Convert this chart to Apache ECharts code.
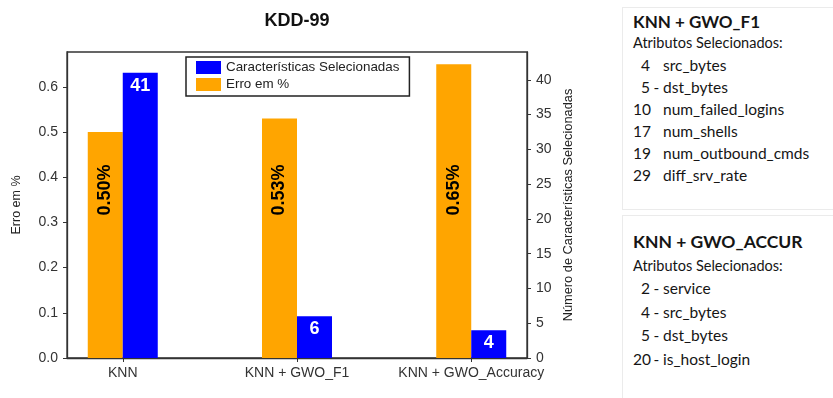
<!DOCTYPE html>
<html>
<head>
<meta charset="utf-8">
<script src="https://cdn.jsdelivr.net/npm/echarts@6/dist/echarts.min.js"></script>
<style>
body { margin: 0; background: #fff; }
#wrap { position: relative; width: 833px; height: 398px; overflow: hidden; }
#chart { position: absolute; left: 0; top: 0; width: 833px; height: 398px; }
.box { position: absolute; left: 622px; width: 240px; box-sizing: border-box; border: 1.5px solid #ebebeb; background: #fff;
  padding-left: 10px; font-family: Lato, sans-serif; color: #151515; }
.box .tit { font-weight: bold; font-size: 17px; line-height: 22px; }
.box .sub { font-size: 14.5px; line-height: 20px; }
.box .it { font-size: 15.5px; white-space: pre; }
.box .it .n { display: inline-block; width: 17px; text-align: right; }
.box .it .s { display: inline-block; width: 13px; text-align: center; }
#box1 { top: 7px; height: 203px; padding-top: 3px; }
#box2 { top: 215px; height: 200px; padding-top: 15px; }
#box2 .tit { font-size: 17.5px; }
#box1 .it { line-height: 22px; }
#box2 .it { line-height: 23.5px; }
</style>
</head>
<body>
<div id="wrap">
  <div id="chart"></div>
  <div class="box" id="box1"></div>
  <div class="box" id="box2"></div>
</div>
<script>
// dados do grafico
var categorias = ['KNN', 'KNN + GWO_F1', 'KNN + GWO_Accuracy'];
var erro = [0.50, 0.53, 0.65];
var qtdCaract = [41, 6, 4];
var ticksErro = [0, 0.1, 0.2, 0.3, 0.4, 0.5, 0.6];
var ticksQtd = [0, 5, 10, 15, 20, 25, 30, 35, 40];
var posCat = [0, 1, 2];

// atributos selecionados (quadros a direita)
var f1Titulo = 'KNN + GWO_F1';
var f1Num = [4, 5, 10, 17, 19, 29];
var f1Sep = ['', '-', '', '', '', ''];
var f1Nome = ['src_bytes', 'dst_bytes', 'num_failed_logins', 'num_shells', 'num_outbound_cmds', 'diff_srv_rate'];
var accTitulo = 'KNN + GWO_ACCUR';
var accNum = [2, 4, 5, 20];
var accSep = ['-', '-', '-', '-'];
var accNome = ['service', 'src_bytes', 'dst_bytes', 'is_host_login'];

function quadro(id, titulo, nums, seps, nomes) {
	var el = document.getElementById(id);
	var html = '<div class="tit">' + titulo + '</div>';
	html += '<div class="sub" style="margin-top:' + (id == 'box1' ? 0 : 3) + 'px">Atributos Selecionados:</div>';
	html += '<div style="margin-top:1px">';
	for (var i = 0; i < nums.length; i++) {
		html += '<div class="it"><span class="n">' + nums[i] + '</span><span class="s">' + seps[i] + '</span>' + nomes[i] + '</div>';
	}
	html += '</div>';
	el.innerHTML = html;
}
quadro('box1', f1Titulo, f1Num, f1Sep, f1Nome);
quadro('box2', accTitulo, accNum, accSep, accNome);

var fonte = '"Liberation Sans", Arial, sans-serif';
var myChart = echarts.init(document.getElementById('chart'));
var option = {
	animation: false,
	backgroundColor: '#fff',
	textStyle: { fontFamily: fonte },
	title: {
		text: 'KDD-99',
		left: 297,
		textAlign: 'center',
		top: 12,
		padding: 0,
		textStyle: { fontSize: 18, fontWeight: 'bold', color: '#111', fontFamily: fonte }
	},
	legend: {
		data: ['Características Selecionadas', 'Erro em %'],
		orient: 'vertical',
		left: 186,
		top: 57,
		padding: [4, 10, 5, 10],
		borderColor: '#222',
		borderWidth: 1.5,
		itemWidth: 25,
		itemHeight: 13,
		itemGap: 4,
		icon: 'rect',
		selectedMode: false,
		textStyle: { fontSize: 13.4, color: '#222', fontFamily: fonte }
	},
	grid: {
		left: 67,
		right: 306,
		top: 52,
		bottom: 40,
		show: true,
		borderColor: '#333',
		borderWidth: 1.3,
		outerBoundsMode: 'none'
	},
	xAxis: {
		type: 'value',
		min: -0.32,
		max: 2.32,
		splitLine: { show: false },
		axisLine: { show: true, onZero: false, lineStyle: { color: '#333', width: 1.3 } },
		axisTick: { show: true, length: 4, customValues: posCat, lineStyle: { color: '#333' } },
		axisLabel: {
			customValues: posCat,
			margin: 8,
			fontSize: 14,
			color: '#333',
			formatter: function(v) { return categorias[Math.round(v)]; }
		}
	},
	yAxis: [{
		type: 'value',
		position: 'left',
		min: 0,
		max: 0.677,
		splitLine: { show: false },
		axisLine: { show: true, onZero: false, lineStyle: { color: '#333', width: 1.3 } },
		axisTick: { show: true, length: 4, customValues: ticksErro, lineStyle: { color: '#333' } },
		axisLabel: {
			customValues: ticksErro,
			margin: 9,
			fontSize: 14,
			color: '#333',
			formatter: function(v) { return v.toFixed(1); }
		},
		name: 'Erro em %',
		nameLocation: 'middle',
		nameRotate: 90,
		nameGap: 44,
		nameTextStyle: { fontSize: 12.5, color: '#222' }
	}, {
		type: 'value',
		position: 'right',
		min: 0,
		max: 44,
		splitLine: { show: false },
		axisLine: { show: true, onZero: false, lineStyle: { color: '#333', width: 1.3 } },
		axisTick: { show: true, length: 4, customValues: ticksQtd, lineStyle: { color: '#333' } },
		axisLabel: {
			customValues: ticksQtd,
			margin: 9,
			fontSize: 14,
			color: '#333'
		},
		name: 'Número de Características Selecionadas',
		nameLocation: 'middle',
		nameRotate: 90,
		nameGap: 30,
		nameTextStyle: { fontSize: 12.8, color: '#222' }
	}],
	series: [{
		name: 'Erro em %',
		type: 'bar',
		yAxisIndex: 0,
		barWidth: 35,
		barGap: '0%',
		itemStyle: { color: '#FFA500' },
		label: {
			show: true,
			position: 'insideBottom',
			distance: 168,
			rotate: 90,
			align: 'center',
			verticalAlign: 'middle',
			fontSize: 18,
			fontWeight: 'bold',
			color: '#000',
			formatter: function(p) { return p.value[1].toFixed(2) + '%'; }
		},
		data: erro.map(function(v, i) { return [posCat[i], v]; })
	}, {
		name: 'Características Selecionadas',
		type: 'bar',
		yAxisIndex: 1,
		barWidth: 35,
		barGap: '0%',
		itemStyle: { color: '#0000FF' },
		label: {
			show: true,
			position: 'insideTop',
			distance: 4,
			fontSize: 18,
			fontWeight: 'bold',
			color: '#fff',
			formatter: function(p) { return p.value[1]; }
		},
		data: qtdCaract.map(function(v, i) { return [posCat[i], v]; })
	}]
};
myChart.setOption(option);

window.addEventListener('resize', function() {
	myChart.resize();
});
</script>
</body>
</html>
